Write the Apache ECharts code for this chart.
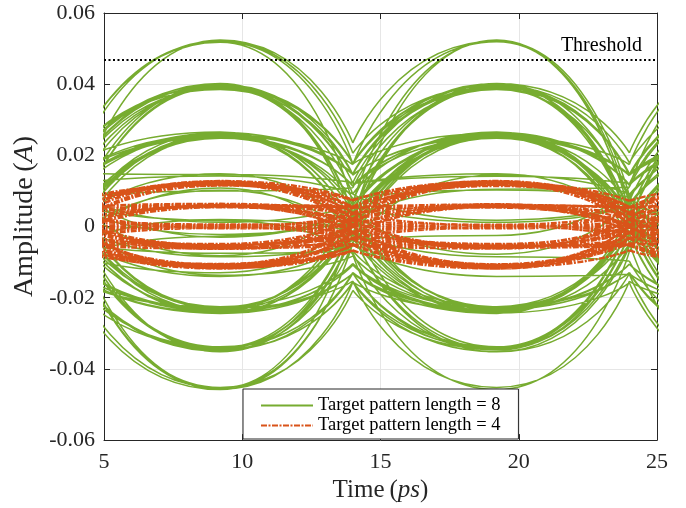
<!DOCTYPE html>
<html>
<head>
<meta charset="utf-8">
<title>Eye diagram</title>
<script src="https://cdn.jsdelivr.net/npm/echarts@6/dist/echarts.min.js"></script>
<style>
html, body { margin: 0; padding: 0; background: #fff; }
#main { width: 686px; height: 508px; }
</style>
</head>
<body>
<div id="main"></div>
<script>
// sample instants (ps): crossing, symbol centre, crossing, centre, ...
var traceTimes = [4, 9.2, 14, 19.2, 24, 29.2, 34];

// amplitude (A) of each trace at traceTimes, pattern length 8
var greenTraces = [
    [0.0176, 0.0522, 0.0206, 0.0395, 0.0147, 0.0257, 0.0146],
    [0.0204, 0.0518, 0.0064, -0.0232, 0.0007, 0.0261, 0.0091],
    [0.0065, 0.0524, 0.0235, 0.0521, 0.004, -0.0345, -0.0131],
    [0.0011, 0.0392, 0.0178, 0.0398, 0.0036, -0.0238, 0.0005],
    [0.0204, 0.0385, 0.0144, 0.0253, 0.0174, 0.052, 0.0205],
    [0.0149, 0.0402, 0.0014, -0.0338, 0.0012, 0.039, 0.0146],
    [0.0091, 0.039, 0.0121, 0.0148, 0.0003, -0.0135, -0.0027],
    [0.0176, 0.0394, 0.0176, 0.0387, 0.0147, 0.0266, 0.0177],
    [0.0003, 0.0248, 0.0115, 0.0261, 0.0116, 0.0255, 0.0005],
    [0.0177, 0.0266, 0.0005, -0.0244, 0.0035, 0.0398, 0.0012],
    [0.0116, 0.0257, 0.0148, 0.0402, 0.0072, -0.008, 0.0041],
    [-0.0045, 0.0253, 0.006, 0.0012, 0.0059, 0.0248, 0.0088],
    [0.0091, 0.0261, -0.002, -0.0352, -0.0056, 0.0105, 0.0141],
    [0.012, 0.0142, 0.0092, 0.0266, 0.0009, -0.0225, 0.0008],
    [0.0015, 0.0148, -0.002, -0.0238, -0.0049, 0.002, 0.0092],
    [0.0081, 0.01, 0.0109, 0.0385, 0.0081, -0.0025, 0.0053],
    [-0.0053, 0.0108, -0.0079, -0.0458, -0.007, 0.0145, -0.002],
    [0.009, 0.0012, 0.006, 0.0253, 0.0028, -0.013, 0.0088],
    [-0.0048, 0.002, -0.0015, -0.0085, -0.0097, -0.0345, -0.0074],
    [0.0054, -0.0022, 0.0019, 0.0105, 0.0111, 0.039, 0.0035],
    [0.011, -0.003, 0.0051, 0.0257, 0.0061, 0.0015, -0.0015],
    [-0.0047, -0.0075, -0.0068, -0.0225, 0.0008, 0.026, 0.0082],
    [0.0005, -0.0085, -0.0051, -0.014, -0.0134, -0.0455, -0.0015],
    [-0.0082, -0.013, 0.0027, 0.0248, 0.0038, -0.008, -0.0071],
    [-0.0028, -0.014, -0.0037, -0.0025, 0.0111, 0.052, 0.0039],
    [0.0008, -0.0225, -0.0104, -0.0238, 0.0005, 0.0261, 0.0146],
    [0.0065, -0.0232, 0.0036, 0.039, 0.0033, -0.0244, -0.0133],
    [-0.0133, -0.0244, 0.0005, 0.0266, -0.0019, -0.0352, -0.0021],
    [-0.0106, -0.0238, -0.0131, -0.0345, -0.0046, 0.0142, 0.0035],
    [0.0036, -0.023, -0.0153, -0.0452, -0.0154, -0.0232, 0.0006],
    [-0.002, -0.0235, 0.0065, 0.0522, 0.0087, -0.0135, -0.0048],
    [-0.0018, -0.0338, -0.0131, -0.0244, 0.0034, 0.0394, 0.0147],
    [-0.0131, -0.0345, -0.0157, -0.0352, -0.0132, -0.0235, -0.0106],
    [0.0038, -0.0352, -0.0021, 0.0257, -0.0045, -0.0458, -0.0015],
    [-0.0179, -0.034, 0.0014, 0.0402, 0.0207, 0.0518, 0.0064],
    [-0.0131, -0.0348, -0.0046, 0.0145, 0.009, 0.0253, -0.0045],
    [-0.0043, -0.0452, -0.0179, -0.0345, 0.0009, 0.0385, 0.0034],
    [-0.0181, -0.0458, -0.0044, 0.0261, 0.0008, -0.0225, 0.0008],
    [-0.0015, -0.0455, 0.0016, 0.0524, 0.004, -0.0345, -0.0131],
    [0.0205, 0.052, 0.0176, 0.0262, 0.0005, -0.0241, 0.0004],
    [0.012, 0.0388, 0.0176, 0.0396, 0.0179, 0.0401, 0.0037],
    [0.0037, 0.0399, 0.0146, 0.025, -0.0022, -0.0349, 0.0009],
    [0.0205, 0.0391, 0.0037, -0.0228, -0.0019, 0.0143, 0.0091],
    [0.0011, 0.0396, 0.0121, 0.0141, 0.012, 0.0393, -0.0014],
    [0.0146, 0.0387, 0.0091, 0.0018, 0.0062, 0.0259, 0.0175],
    [0.0007, 0.0264, 0.0148, 0.0392, 0.0144, 0.025, 0.0003],
    [0.0144, 0.0251, 0.0115, 0.0259, 0.0007, -0.0229, -0.0129],
    [-0.002, 0.0256, 0.0174, 0.0519, 0.0064, -0.0236, 0.0005],
    [0.0117, 0.0262, 0.0007, -0.0233, -0.0129, -0.0341, 0.0011],
    [0.0026, 0.0249, 0.0079, 0.0103, 0.0083, 0.0264, 0.0147],
    [0.0146, 0.0258, 0.0041, -0.0078, 0.007, 0.0389, 0.0035],
    [0.015, 0.0146, 0.0123, 0.04, 0.0014, -0.0338, -0.0018],
    [-0.003, 0.0102, -0.0032, -0.0242, 0.0035, 0.0397, 0.0148],
    [0.0062, 0.0017, -0.0074, -0.0347, -0.0021, 0.0255, 0.0005],
    [-0.0084, -0.0027, 0.0051, 0.0252, -0.0022, -0.0349, -0.0131],
    [0.0069, -0.0082, 0.007, 0.0393, 0.0148, 0.0263, 0.0063],
    [0.0028, -0.0137, -0.0083, -0.0231, -0.0106, -0.0239, 0.0005],
    [0.0066, -0.0227, 0.0005, 0.0249, 0.0145, 0.0395, 0.0036],
    [-0.0132, -0.0241, -0.0106, -0.0229, -0.0105, -0.0236, -0.0131],
    [-0.0105, -0.0233, 0.0035, 0.0389, 0.001, -0.0343, -0.0019],
    [0.0004, -0.0244, -0.0131, -0.0339, -0.0018, 0.0258, 0.0005],
    [-0.0153, -0.0226, 0.0009, 0.0265, 0.0116, 0.0251, 0.0144],
    [0.0034, -0.0238, -0.0108, -0.0243, -0.0158, -0.0457, -0.0044],
    [-0.0019, -0.0343, -0.002, 0.0254, 0.0006, -0.0228, 0.0036],
    [-0.0132, -0.035, 0.0011, 0.0401, 0.0012, -0.0347, -0.0131],
    [-0.0154, -0.0339, -0.0129, -0.0234, 0.0006, 0.026, 0.0176],
    [0.001, -0.0346, -0.0155, -0.0341, 0.0011, 0.039, 0.0146],
    [-0.0044, -0.0457, -0.0156, -0.0237, 0.0004, 0.0256, 0.0005],
    [-0.0155, -0.0453, -0.0046, 0.025, 0.0143, 0.0386, 0.0009],
    [0.0148, 0.0397, 0.0035, -0.024, 0.0002, 0.0249, 0.0003],
    [0.0005, 0.0255, -0.002, -0.0344, 0.0012, 0.0399, 0.0148],
    [-0.0129, -0.023, 0.0037, 0.0395, 0.0146, 0.0252, 0.0004],
    [-0.0018, -0.0342, -0.0018, 0.026, 0.0118, 0.0264, 0.0147],
    [0.0178, 0.04, 0.0039, -0.0226, -0.013, -0.035, -0.002],
    [0.0115, 0.0253, 0.0113, 0.0248, 0.0144, 0.0392, 0.0035],
    [-0.0106, -0.0236, 0.0006, 0.0263, 0.0007, -0.0232, -0.013],
    [0.0009, -0.0348, -0.0131, -0.0236, 0.0005, 0.0257, 0.0116],
    [-0.0019, 0.0259, 0.0146, 0.0388, 0.0034, -0.0239, 0.0034],
    [0.0004, -0.0242, 0.0003, 0.0255, 0.0146, 0.0394, 0.0011]
];

// pattern length 4
var orangeTraces = [
    [0.0038, 0.0128, 0.0075, 0.0121, 0.0054, 0.006, -0.0015],
    [0.0004, 0.0123, 0.0038, 0.0003, -0.0016, -0.0055, 0.002],
    [0.0053, 0.0118, 0.0002, -0.0113, 0.0003, 0.0122, 0.0037],
    [0.0021, 0.0125, 0.0055, 0.0058, -0.0017, -0.0116, -0.0017],
    [0.0072, 0.012, 0.0019, -0.0057, -0.0017, 0.0001, -0.0016],
    [0.0002, 0.0115, 0.0073, 0.0127, 0.0006, -0.0108, 0.0004],
    [0.0055, 0.0064, 0.0037, 0.006, 0.0054, 0.0119, 0.0019],
    [0.0017, 0.0058, -0.0018, -0.0118, -0.0034, 0.0004, 0.0019],
    [-0.0015, 0.0061, 0.0056, 0.0124, 0.0022, -0.0052, -0.0049],
    [0.0035, 0.0055, 0.0016, -0.0003, 0.0018, 0.0062, 0.0055],
    [0.0002, 0.006, 0, -0.0061, 0.002, 0.0126, 0.0038],
    [0.0053, 0.0057, -0.0015, -0.0106, -0.0015, 0.0056, -0.0016],
    [0.002, 0.0006, 0.0002, 0.0002, -0.0033, -0.0112, 0.0002],
    [0.0036, 0, 0.0035, 0.0117, 0.0034, -0.0003, -0.0017],
    [-0.0034, -0.0004, -0.0016, -0.0049, 0.0003, 0.0059, 0.0036],
    [0.0001, 0.0003, 0.002, 0.0063, 0.0001, -0.0059, -0.0018],
    [-0.0017, -0.0002, -0.0035, -0.0114, 0.0002, 0.0121, 0.0003],
    [0.0036, 0.0001, -0.0001, -0.0005, 0, 0.0005, 0.0038],
    [-0.0048, -0.005, -0.0032, -0.0058, -0.0034, -0.0054, 0.0002],
    [0.0002, -0.0055, 0.0021, 0.0126, 0.0055, 0.0058, 0.0017],
    [-0.0017, -0.0058, -0.0001, 0.0055, -0.0016, -0.0109, -0.0049],
    [0.002, -0.0053, -0.0049, -0.011, 0.0002, 0.0116, 0.0071],
    [-0.0034, -0.0057, -0.0016, 0.0004, 0.0001, -0.0002, -0.0034],
    [-0.0052, -0.0062, -0.0001, 0.006, 0.0003, -0.005, -0.0015],
    [-0.0032, -0.0108, -0.0067, -0.0116, -0.0017, 0.0061, 0.0002],
    [0.0002, -0.0113, -0.0017, 0.0057, 0.0054, 0.0124, 0.0055],
    [-0.0052, -0.0118, -0.0051, -0.0053, -0.0015, 0.0002, 0.0037],
    [-0.0015, -0.0111, 0.0002, 0.0119, 0.0004, -0.0105, -0.0065],
    [-0.0065, -0.0105, -0.0032, -0.0001, -0.0018, -0.006, -0.0018],
    [-0.0035, -0.0116, -0.0053, -0.0062, -0.0002, 0.0055, 0.0053],
    [0.0054, 0.0122, 0.0037, 0.0002, -0.0033, -0.0112, -0.0016],
    [0.0021, 0.0127, 0.002, -0.0059, -0.0001, 0.0056, 0.0053],
    [0.0071, 0.0116, 0.0053, 0.0062, 0.0018, -0.0003, -0.0034],
    [0.0037, 0.0124, 0.0005, -0.0107, -0.0047, -0.0051, 0.0003],
    [0.0002, 0.0119, 0.0073, 0.0123, 0.0072, 0.0117, 0.0035],
    [0.0055, 0.0126, 0.0054, 0.0053, -0.0003, -0.0063, -0.0035],
    [0.0001, 0.0059, 0.0056, 0.0128, 0.0039, 0.0003, 0.0037],
    [0.0037, 0.0063, 0.0003, -0.0054, -0.005, -0.0114, -0.0034],
    [0.0017, 0.0056, 0.0035, 0.0059, 0.0001, -0.0057, -0.0034],
    [-0.0017, 0.0054, 0.0018, 0.0005, 0.0039, 0.0126, 0.0056],
    [0.0054, 0.0061, -0.0016, -0.0115, -0.0067, -0.0109, -0.0066],
    [0.0001, 0.0057, 0.0051, 0.0114, 0.0053, 0.0063, 0.0055],
    [-0.0001, -0.0003, 0.0037, 0.0125, 0.0019, -0.0061, 0],
    [-0.0032, 0.0004, 0.0018, 0.0057, 0.0035, 0.006, -0.0015],
    [0.0018, 0, -0.0016, -0.0052, 0.002, 0.0118, 0.0071],
    [-0.0016, 0.0002, -0.0032, -0.0108, -0.0034, -0.0004, -0.0001],
    [0.0035, -0.0005, 0, 0.0004, -0.0018, -0.0064, -0.0036],
    [0, 0.0001, -0.0017, -0.0056, -0.0052, -0.0117, 0.0001],
    [0, -0.0061, -0.0052, -0.0112, -0.0017, 0.0054, -0.0017],
    [-0.0031, -0.0049, 0.0022, 0.0121, 0.0037, 0.0001, 0],
    [0.0018, -0.0059, -0.0018, -0.0002, -0.0017, -0.0055, 0.0002],
    [-0.0049, -0.0054, 0.0002, 0.0061, 0.0052, 0.0113, 0.0017],
    [-0.0019, -0.0063, -0.0034, -0.005, -0.0047, -0.0106, 0.0004],
    [0.0002, -0.0052, -0.0015, 0.0001, 0.0002, 0.0005, 0.002],
    [-0.0051, -0.0114, -0.0018, 0.0055, -0.0001, -0.0058, 0.0019],
    [-0.0014, -0.0107, 0.0005, 0.0124, 0.0055, 0.0059, 0.0018],
    [0.0001, -0.0117, -0.0068, -0.0111, -0.0032, 0.0003, -0.0016],
    [-0.0033, -0.011, -0.0034, -0.0003, 0.0036, 0.0122, 0.0004],
    [-0.0067, -0.0112, -0.0052, -0.006, -0.0053, -0.0115, -0.0017],
    [-0.0048, -0.0106, -0.0067, -0.0118, -0.0018, 0.0057, 0.0017]
];

var threshold = 0.047;
var xTicks = [5, 10, 15, 20, 25];
var yTickLabels = ['-0.06', '-0.04', '-0.02', '0', '0.02', '0.04', '0.06'];
var seriesNames = ['Target pattern length = 8', 'Target pattern length = 4'];

var FONT = 'Liberation Serif';
var INK = '#262626';
var GREEN = '#77AC30';
var ORANGE = '#D95319';
var DASHDOT = [6, 1.5, 2, 1.5];
var yMin = parseFloat(yTickLabels[0]);
var yMax = parseFloat(yTickLabels[yTickLabels.length - 1]);
var yStep = parseFloat(yTickLabels[1]) - yMin;

// one symbol = one arc (crossing -> centre -> crossing), arcs split by empty points
function toArcs(rows) {
    var out = [];
    rows.forEach(function (r) {
        for (var k = 0; k + 2 < r.length; k += 2) {
            out.push([traceTimes[k], r[k]], [traceTimes[k + 1], r[k + 1]], [traceTimes[k + 2], r[k + 2]]);
            out.push([traceTimes[k + 2], '-']);
        }
    });
    return out;
}

function xAxisOf(pos, labels) {
    return {
        type: 'value', position: pos,
        min: xTicks[0], max: xTicks[xTicks.length - 1], interval: xTicks[1] - xTicks[0],
        axisLine: { show: true, onZero: false, lineStyle: { color: INK, width: 1 } },
        axisTick: { show: true, inside: true, length: 6, lineStyle: { color: INK } },
        axisLabel: { show: labels, fontFamily: FONT, fontSize: 22, color: INK, margin: 11 },
        splitLine: { show: labels, lineStyle: { color: '#e6e6e6', width: 1 } }
    };
}
function yAxisOf(pos, labels) {
    return {
        type: 'value', position: pos,
        min: yMin, max: yMax, interval: yStep,
        axisLine: { show: true, onZero: false, lineStyle: { color: INK, width: 1 } },
        axisTick: { show: true, inside: true, length: 6, lineStyle: { color: INK } },
        axisLabel: {
            show: labels, fontFamily: FONT, fontSize: 22, color: INK, margin: 9,
            formatter: function (v) { return yTickLabels[Math.round((v - yMin) / yStep)]; }
        },
        splitLine: { show: labels, lineStyle: { color: '#e6e6e6', width: 1 } }
    };
}

var chart = echarts.init(document.getElementById('main'));

var xBottom = xAxisOf('bottom', true);
xBottom.name = '{a|Time\u2009(}{b|ps}{a|)}';
xBottom.nameLocation = 'middle';
xBottom.nameGap = 36;
xBottom.nameTextStyle = {
    rich: {
        a: { fontFamily: FONT, fontSize: 25, color: INK },
        b: { fontFamily: FONT, fontSize: 25, color: INK, fontStyle: 'italic' }
    }
};
var yLeft = yAxisOf('left', true);
yLeft.name = '{a|Amplitude\u2009(}{b|A}{a|)}';
yLeft.nameLocation = 'middle';
yLeft.nameGap = 64;
yLeft.nameTextStyle = {
    padding: [0, 0, 0, 20],
    rich: {
        a: { fontFamily: FONT, fontSize: 28, color: INK },
        b: { fontFamily: FONT, fontSize: 28, color: INK, fontStyle: 'italic' }
    }
};

chart.setOption({
    animation: false,
    backgroundColor: '#fff',
    grid: { left: 104, right: 29, top: 13, bottom: 67 },
    xAxis: [xBottom, xAxisOf('top', false)],
    yAxis: [yLeft, yAxisOf('right', false)],
    legend: {
        data: [
            { name: seriesNames[0], lineStyle: { color: GREEN, width: 2 }, itemStyle: { opacity: 0 } },
            { name: seriesNames[1], itemStyle: { opacity: 0 } }
        ],
        orient: 'vertical', left: 243, top: 389,
        itemWidth: 52, itemHeight: 14, itemGap: 1,
        padding: [7, 18, 4, 17],
        backgroundColor: '#fff', borderColor: INK, borderWidth: 1, borderRadius: 0,
        textStyle: { fontFamily: FONT, fontSize: 18.5, color: '#000' },
        selectedMode: false
    },
    series: [
        {
            name: seriesNames[0], type: 'line', data: toArcs(greenTraces),
            smooth: 0.7, smoothMonotone: 'x', symbol: 'none', silent: true,
            lineStyle: { color: GREEN, width: 1.5 }, itemStyle: { color: GREEN },
            z: 2
        },
        {
            name: seriesNames[1], type: 'line', data: toArcs(orangeTraces),
            smooth: 0.7, smoothMonotone: 'x', symbol: 'none', silent: true,
            lineStyle: { color: ORANGE, width: 2.3, type: DASHDOT },
            itemStyle: { color: ORANGE },
            z: 3,
            markLine: {
                silent: true, symbol: ['none', 'none'], precision: 4,
                data: [{ yAxis: threshold }],
                lineStyle: { color: '#000', type: [2, 2.5], width: 2 },
                label: {
                    show: true, position: 'insideEndTop', formatter: 'Threshold',
                    fontFamily: FONT, fontSize: 20, color: '#000', distance: [15, 4]
                },
                emphasis: { disabled: true }
            }
        }
    ]
});
</script>
</body>
</html>
